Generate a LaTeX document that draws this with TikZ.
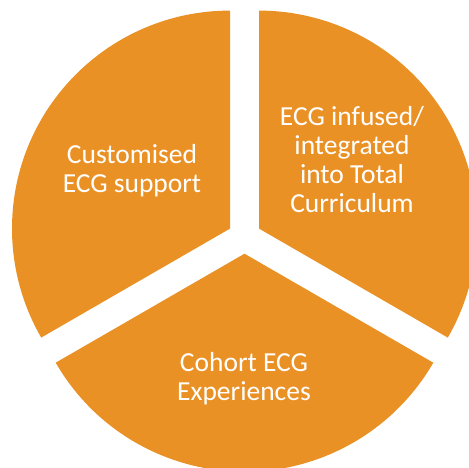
\documentclass[tikz,border=0pt]{standalone}
\usepackage{fontspec}
\setmainfont{Carlito}
\usepackage{tikz}
\usetikzlibrary{positioning}
\usepackage{xcolor}
\definecolor{pieorange}{RGB}{234,145,38}

\begin{document}
\begin{tikzpicture}[
    x=1pt, y=1pt,
    slice/.style={fill=pieorange, draw=none},
    slicetext/.style={
        text=white, align=center, inner sep=0pt,
        font=\fontsize{27.5}{29}\selectfont
    }
]
\clip (0,0) rectangle (469,468);

% Three slices, each pushed out a little from the middle
\coordinate (leftc) at (230,239.4);
\coordinate (rightc) at (259,239.4);
\coordinate (lowc) at (244.5,214.3);

\fill[slice] (leftc) -- ++(90:218) arc[start angle=90, end angle=210, radius=218] -- cycle;
\fill[slice] (rightc) -- ++(-30:218) arc[start angle=-30, end angle=90, radius=218] -- cycle;
\fill[slice] (lowc) -- ++(210:218) arc[start angle=210, end angle=330, radius=218] -- cycle;

% Slice texts
\node[slicetext] (support) at (132, 297.5) {Customised\\ECG support};
\node[slicetext] (curriculum) at (352, 308) {ECG infused/\\integrated\\into Total\\Curriculum};
\node[slicetext] (cohort) at (244, 89.5) {Cohort ECG\\Experiences};

\end{tikzpicture}
\end{document}
